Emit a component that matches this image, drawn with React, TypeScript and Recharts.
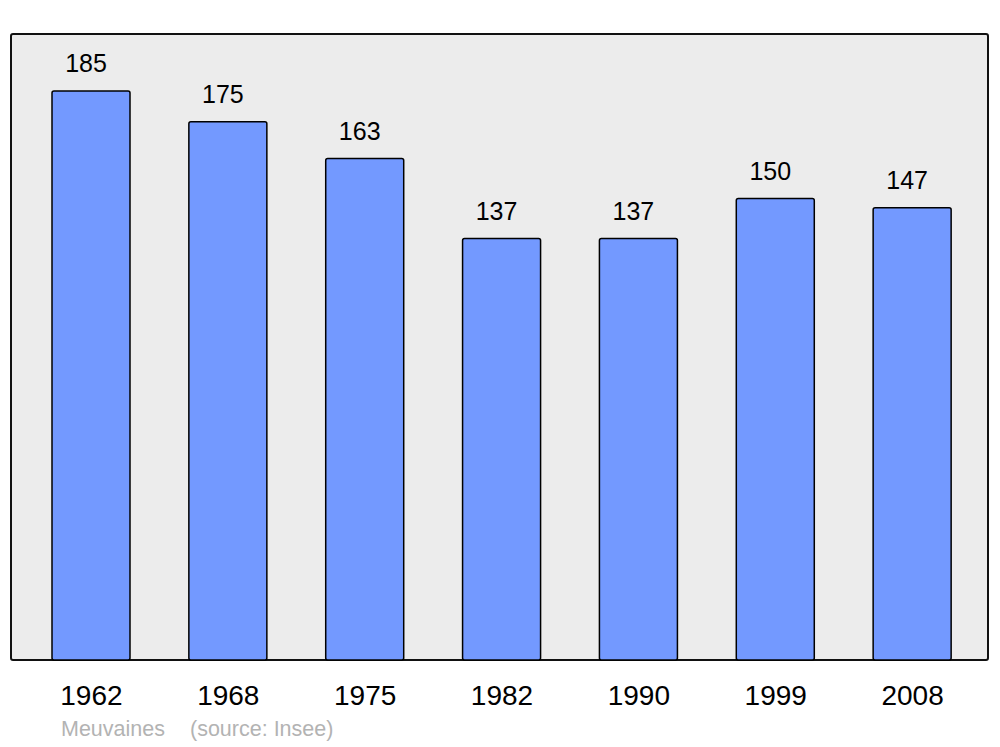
import React from "react";
import { BarChart, Bar, XAxis, YAxis, LabelList } from "recharts";

const years = ["1962", "1968", "1975", "1982", "1990", "1999", "2008"];
const population = [185, 175, 163, 137, 137, 150, 147];

const data = years.map((y, i) => ({ year: y, pop: population[i] }));

const FONT = "'Liberation Sans', Arial, sans-serif";

const Tick = (props: any) => {
  const { x, y, payload } = props;
  return (
    <text x={x} y={y + 45} textAnchor="middle" fontSize={28} fontFamily={FONT} fill="#000">
      {payload.value}
    </text>
  );
};

export default function App() {
  return (
    <div style={{ position: "absolute", left: 0, top: 0, width: 1000, height: 747, background: "#fff" }}>
      <div
        style={{
          position: "absolute",
          left: 10,
          top: 33,
          width: 979,
          height: 628,
          boxSizing: "border-box",
          border: "2px solid #111",
          borderRadius: 3,
          background: "#ececec",
        }}
      />
      <div style={{ position: "absolute", left: 0, top: 0 }}>
        <BarChart
          width={1000}
          height={747}
          data={data}
          margin={{ top: 34, right: 19, bottom: 0, left: 23 }}
          barCategoryGap={0}
        >
          <XAxis
            dataKey="year"
            axisLine={false}
            tickLine={false}
            tickSize={0}
            tickMargin={0}
            interval={0}
            tick={<Tick />}
            height={87}
          />
          <YAxis hide domain={[0, 203.5]} />
          <Bar
            dataKey="pop"
            fill="#7399ff"
            stroke="#000"
            strokeWidth={1.5}
            barSize={78}
            radius={2}
            isAnimationActive={false}
          >
            <LabelList
              dataKey="pop"
              position="top"
              offset={19}
              dx={-5}
              fontSize={25}
              fontFamily={FONT}
              fill="#000"
            />
          </Bar>
        </BarChart>
      </div>
      <div
        style={{
          position: "absolute",
          left: 61,
          top: 717,
          fontFamily: FONT,
          fontSize: 21.5,
          color: "#b3b3b3",
          whiteSpace: "pre",
          lineHeight: "24px",
        }}
      >
        <span>Meuvaines</span>
        <span style={{ position: "absolute", left: 129 }}>(source: Insee)</span>
      </div>
    </div>
  );
}
